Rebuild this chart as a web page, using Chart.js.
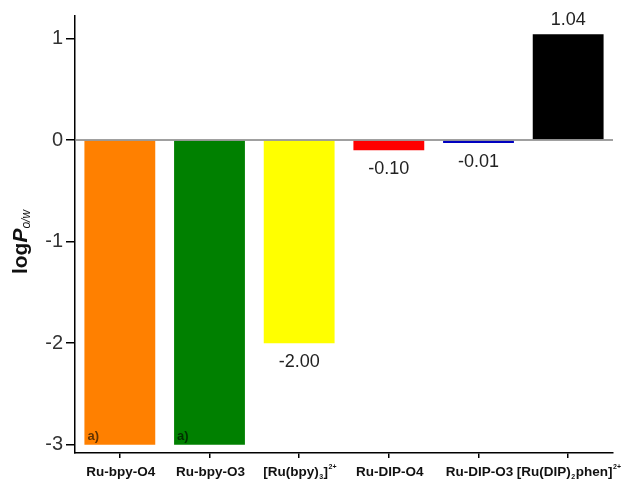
<!DOCTYPE html>
<html><head><meta charset="utf-8">
<script src="https://cdn.jsdelivr.net/npm/chart.js@4.4.1/dist/chart.umd.min.js"></script>
<style>html,body{margin:0;padding:0;background:#fff}#wrap{width:638px;height:480px}</style>
</head><body><div id="wrap"><canvas id="c" width="638" height="480"></canvas></div>
<script>
// Lipophilicity (log P o/w) of the ruthenium complexes
const categories = ['Ru-bpy-O4', 'Ru-bpy-O3', '[Ru(bpy)_{3}]^{2+}', 'Ru-DIP-O4', 'Ru-DIP-O3', '[Ru(DIP)_{2}phen]^{2+}'];
const logP = [-3.00, -3.00, -2.00, -0.10, -0.01, 1.04];
const showValue = [false, false, true, true, true, true];
const notes = ['a)', 'a)', '', '', '', ''];
const barColors = ['#FF8000', '#008000', '#FFFF00', '#FF0000', '#0000C0', '#000000'];
const yTicks = [-3, -2, -1, 0, 1];

const FONT = 'Arial, "Liberation Sans", Helvetica, sans-serif';

// split "_{..}" (subscript) and "^{..}" (superscript) out of a label
function parseRich(s) {
  const out = [];
  s.split(/(_\{[^}]*\}|\^\{[^}]*\})/).forEach(p => {
    if (!p) return;
    if (p.startsWith('_{')) out.push({ t: p.slice(2, -1), k: 'sub' });
    else if (p.startsWith('^{')) out.push({ t: p.slice(2, -1), k: 'sup' });
    else out.push({ t: p, k: 'n' });
  });
  return out;
}

function drawRich(ctx, segs, cx, y, size, weight) {
  const small = Math.round(size * 0.55);
  const fontFor = k => k === 'n' ? `${weight} ${size}px ${FONT}` : `${weight} ${small}px ${FONT}`;
  let w = 0;
  segs.forEach(s => { ctx.font = fontFor(s.k); w += ctx.measureText(s.t).width + (s.k === 'n' ? 0 : 1); });
  let x = cx - w / 2;
  ctx.textAlign = 'left';
  ctx.textBaseline = 'alphabetic';
  segs.forEach(s => {
    ctx.font = fontFor(s.k);
    const dy = s.k === 'sub' ? size * 0.2 : s.k === 'sup' ? -size * 0.55 : 0;
    const pad = s.k === 'n' ? 0 : 0.5;
    ctx.fillText(s.t, x + pad, y + dy);
    x += ctx.measureText(s.t).width + pad * 2;
  });
}

const annotations = {
  id: 'annotations',
  afterDatasetsDraw(chart) {
    const { ctx, chartArea, scales } = chart;
    const y0 = scales.y.getPixelForValue(0);
    ctx.save();
    ctx.strokeStyle = '#808080';
    ctx.lineWidth = 1.5;
    ctx.beginPath();
    ctx.moveTo(chartArea.left, y0);
    ctx.lineTo(chartArea.right, y0);
    ctx.stroke();
    ctx.restore();
  },
  afterDraw(chart) {
    const { ctx, scales } = chart;
    const meta = chart.getDatasetMeta(0);
    ctx.save();
    // category labels
    ctx.fillStyle = '#111';
    categories.forEach((c, i) => {
      drawRich(ctx, parseRich(c), scales.x.getPixelForValue(i) + 1, 476, 13.5, 'bold');
    });
    // value labels
    ctx.fillStyle = '#222';
    ctx.font = `18px ${FONT}`;
    ctx.textAlign = 'center';
    logP.forEach((v, i) => {
      if (!showValue[i]) return;
      const bar = meta.data[i];
      if (v < 0) {
        ctx.textBaseline = 'top';
        ctx.fillText(v.toFixed(2), bar.x, Math.max(bar.y, bar.base) + 10);
      } else {
        ctx.textBaseline = 'alphabetic';
        ctx.fillText(v.toFixed(2), bar.x, Math.min(bar.y, bar.base) - 9);
      }
    });
    // footnote marks inside bars
    ctx.font = `bold 13px ${FONT}`;
    ctx.fillStyle = 'rgba(0,0,0,0.62)';
    ctx.textAlign = 'left';
    ctx.textBaseline = 'alphabetic';
    notes.forEach((n, i) => {
      if (!n) return;
      const bar = meta.data[i];
      ctx.fillText(n, bar.x - bar.width / 2 + 3, Math.max(bar.y, bar.base) - 5);
    });
    // y-axis title: log P_o/w
    ctx.translate(21, 242);
    ctx.rotate(-Math.PI / 2);
    ctx.fillStyle = '#111';
    const parts = [
      { t: 'log', f: `bold 21px ${FONT}`, dy: 0 },
      { t: 'P', f: `italic bold 21px ${FONT}`, dy: 0 },
      { t: 'o/w', f: `italic 12px ${FONT}`, dy: 6 }
    ];
    let w = 0;
    parts.forEach(p => { ctx.font = p.f; w += ctx.measureText(p.t).width; });
    let x = -w / 2;
    ctx.textBaseline = 'middle';
    parts.forEach(p => {
      ctx.font = p.f;
      ctx.fillText(p.t, x, p.dy);
      x += ctx.measureText(p.t).width;
    });
    ctx.restore();
  }
};

new Chart(document.getElementById('c'), {
  type: 'bar',
  data: {
    labels: categories,
    datasets: [{
      data: logP,
      backgroundColor: barColors,
      borderWidth: 0,
      minBarLength: 3,
      barPercentage: 0.79,
      categoryPercentage: 1
    }]
  },
  options: {
    responsive: false,
    animation: false,
    layout: { padding: { top: 16, right: 25, left: 0, bottom: 0 } },
    plugins: { legend: { display: false }, tooltip: { enabled: false } },
    scales: {
      x: {
        grid: { offset: false, drawOnChartArea: false, drawTicks: true, tickLength: 5, color: '#000', lineWidth: 1.5 },
        border: { color: '#000', width: 1.5 },
        ticks: { display: false },
        afterFit(scale) { scale.height = 27; }
      },
      y: {
        min: -3.08,
        max: 1.22,
        afterBuildTicks(scale) { scale.ticks = yTicks.map(v => ({ value: v })); },
        grid: { drawOnChartArea: false, drawTicks: true, tickLength: 9, color: '#000', lineWidth: 1.5 },
        border: { color: '#000', width: 1.5 },
        ticks: { font: { family: FONT, size: 20 }, color: '#333', padding: 3 },
        afterFit(scale) { scale.width = 75; }
      }
    }
  },
  plugins: [annotations]
});
</script>
</body></html>
